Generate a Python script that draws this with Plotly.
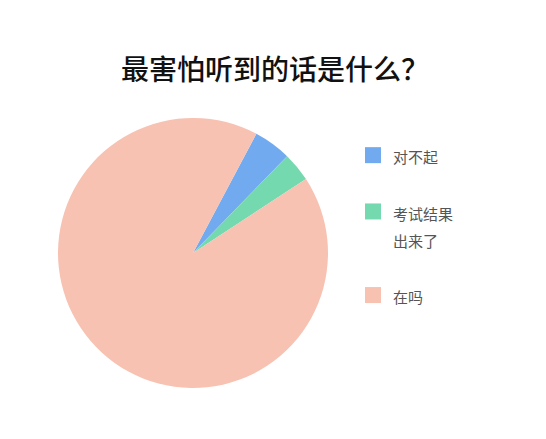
import plotly.graph_objects as go

# data
labels = ["对不起", "考试结果<br>出来了", "在吗"]
values = [4.5, 3.5, 92.0]
colors = ["#72AAF0", "#74D9AE", "#F7C2B2"]

title_text = "最害怕听到的话是什么？"

fig = go.Figure()

fig.add_trace(go.Pie(
    labels=labels,
    values=values,
    marker=dict(colors=colors, line=dict(width=0)),
    sort=False,
    direction="clockwise",
    rotation=28,
    textinfo="none",
    hoverinfo="label+percent",
    showlegend=False,
    domain=dict(x=[50 / 546, 320 / 546], y=[59 / 439, 329 / 439]),
))

# legend entries (one per slice) so the gaps between them can be set
for i, lab in enumerate(labels):
    txt = "<br>".join("<span style='font-size:15px'>%s</span>" % s for s in lab.split("<br>"))
    fig.add_trace(go.Scatter(
        x=[None], y=[None],
        mode="markers",
        marker=dict(symbol="square", size=16, color=colors[i]),
        name=txt,
        legendgroup=str(i),
        showlegend=True,
        hoverinfo="skip",
    ))

fig.update_layout(
    width=546,
    height=439,
    margin=dict(l=0, r=0, t=0, b=0),
    paper_bgcolor="white",
    plot_bgcolor="white",
    font=dict(family="Noto Sans CJK SC", color="#555555"),
    title=dict(
        text=title_text,
        x=267 / 546, xanchor="center",
        y=1 - 62 / 439, yanchor="middle",
        font=dict(size=28, color="#111111", family="Noto Sans CJK SC", weight=500),
    ),
    xaxis=dict(visible=False),
    yaxis=dict(visible=False),
    legend=dict(
        x=345 / 546, xanchor="left",
        y=1 - 127 / 439, yanchor="top",
        font=dict(size=21, color="#555555"),
        tracegroupgap=26,
        valign="top",
        bgcolor="rgba(0,0,0,0)",
    ),
)

fig.write_html("out.html")
